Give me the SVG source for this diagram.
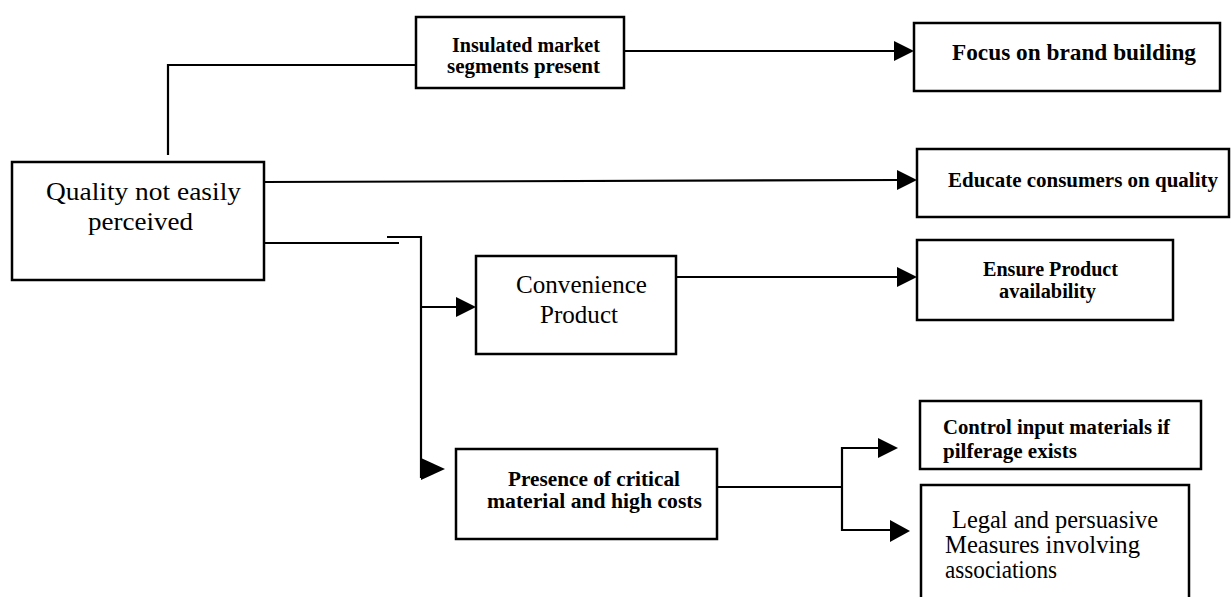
<svg xmlns="http://www.w3.org/2000/svg" width="1232" height="597" viewBox="0 0 1232 597">
<defs>
<style>
.box{fill:#fff;stroke:#000;stroke-width:2.5}
.ln{fill:none;stroke:#000;stroke-width:2.2}
.arr{fill:#000}
.t{font-family:"Liberation Serif","Times New Roman",serif;fill:#000}
.b{font-weight:bold}
</style>
</defs>
<rect width="1232" height="597" fill="#fff"/>
<g id="connectors">
<polyline class="ln" points="168,155 168,65 417,65"/>
<line class="ln" x1="264" y1="182" x2="900" y2="180"/>
<polyline class="ln" points="262,243 399,243"/>
<polyline class="ln" points="387,237 421,237 421,478"/>
<line class="ln" x1="421" y1="307" x2="458" y2="307"/>
<line class="ln" x1="624" y1="51" x2="896" y2="51"/>
<line class="ln" x1="676" y1="277" x2="899" y2="277"/>
<polyline class="ln" points="717,487 842,487"/>
<polyline class="ln" points="880,448 842,448 842,530 892,530"/>
<path class="arr" d="M894,41 L914,51 L894,61 Z"/>
<path class="arr" d="M897,170 L917,180 L897,190 Z"/>
<path class="arr" d="M897,267 L917,277 L897,287 Z"/>
<path class="arr" d="M456,297 L476,307 L456,317 Z"/>
<path class="arr" d="M421,458 L445,469 L421,480 Z"/>
<path class="arr" d="M878,438 L898,448 L878,458 Z"/>
<path class="arr" d="M890,520 L910,531 L890,542 Z"/>
</g>
<g id="quality">
<rect class="box" x="12" y="162" width="252" height="118"/>
<text class="t" x="46" y="200" font-size="26" textLength="195" lengthAdjust="spacingAndGlyphs">Quality not easily</text>
<text class="t" x="88" y="230" font-size="26" textLength="105" lengthAdjust="spacingAndGlyphs">perceived</text>
</g>
<g id="insulated">
<rect class="box" x="416" y="17" width="208" height="71"/>
<text class="t b" x="452" y="52" font-size="20" textLength="148" lengthAdjust="spacingAndGlyphs">Insulated market</text>
<text class="t b" x="447" y="73" font-size="20" textLength="153" lengthAdjust="spacingAndGlyphs">segments present</text>
</g>
<g id="focus">
<rect class="box" x="914" y="23" width="306" height="68"/>
<text class="t b" x="952" y="60" font-size="24" textLength="244" lengthAdjust="spacingAndGlyphs">Focus on brand building</text>
</g>
<g id="educate">
<rect class="box" x="917" y="149" width="312" height="68"/>
<text class="t b" x="948" y="187" font-size="22" textLength="270" lengthAdjust="spacingAndGlyphs">Educate consumers on quality</text>
</g>
<g id="convenience">
<rect class="box" x="476" y="256" width="200" height="98"/>
<text class="t" x="516" y="293" font-size="26" textLength="131" lengthAdjust="spacingAndGlyphs">Convenience</text>
<text class="t" x="540" y="323" font-size="26" textLength="78" lengthAdjust="spacingAndGlyphs">Product</text>
</g>
<g id="ensure">
<rect class="box" x="917" y="240" width="256" height="80"/>
<text class="t b" x="983" y="276" font-size="20.5" textLength="135" lengthAdjust="spacingAndGlyphs">Ensure Product</text>
<text class="t b" x="999" y="298" font-size="20.5" textLength="97" lengthAdjust="spacingAndGlyphs">availability</text>
</g>
<g id="presence">
<rect class="box" x="456" y="449" width="261" height="90"/>
<text class="t b" x="508" y="486" font-size="21" textLength="172" lengthAdjust="spacingAndGlyphs">Presence of critical</text>
<text class="t b" x="487" y="508" font-size="21" textLength="215" lengthAdjust="spacingAndGlyphs">material and high costs</text>
</g>
<g id="control">
<rect class="box" x="920" y="401" width="281" height="68"/>
<text class="t b" x="943" y="434" font-size="21" textLength="227" lengthAdjust="spacingAndGlyphs">Control input materials if</text>
<text class="t b" x="943" y="458" font-size="21" textLength="134" lengthAdjust="spacingAndGlyphs">pilferage exists</text>
</g>
<g id="legal">
<rect class="box" x="921" y="485" width="268" height="114"/>
<text class="t" x="952" y="528" font-size="25" textLength="206" lengthAdjust="spacingAndGlyphs">Legal and persuasive</text>
<text class="t" x="945" y="553" font-size="25" textLength="195" lengthAdjust="spacingAndGlyphs">Measures involving</text>
<text class="t" x="945" y="578" font-size="25" textLength="112" lengthAdjust="spacingAndGlyphs">associations</text>
</g>
</svg>
